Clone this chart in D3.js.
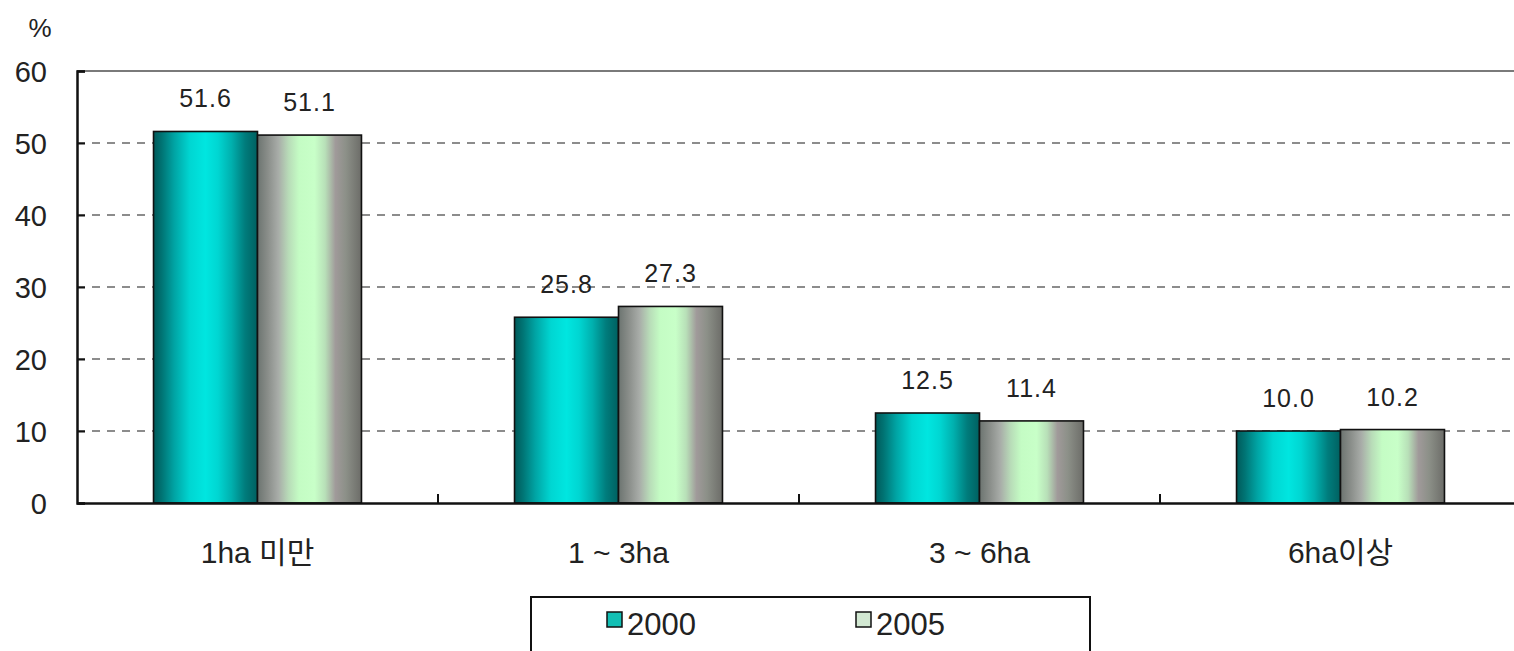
<!DOCTYPE html>
<html><head><meta charset="utf-8">
<script src="https://cdn.jsdelivr.net/npm/d3@7"></script>
<style>body{margin:0;background:#fff;}svg{display:block;}</style>
</head><body>
<svg id="c" width="1514" height="651"></svg>
<script>
const categories = ["1ha 미만", "1 ~ 3ha", "3 ~ 6ha", "6ha이상"];
const seriesNames = ["2000", "2005"];
const values2000 = [51.6, 25.8, 12.5, 10.0];
const values2005 = [51.1, 27.3, 11.4, 10.2];
const yTicks = [0, 10, 20, 30, 40, 50, 60];

(function () {
const FONT = "'Liberation Sans', Arial, 'Noto Sans CJK KR', sans-serif";
const svg = d3.select("#c");
const pLeft = 77, pRight = 1521, pTop = 71, pBottom = 503;

const x = d3.scaleBand().domain(categories).range([pLeft, pRight]).padding(0);
const xi = d3.scaleBand().domain(seriesNames).range([0, x.bandwidth()]).paddingInner(0).paddingOuter(0.736);
const y = d3.scaleLinear().domain([0, 60]).range([pBottom, pTop]);

const defs = svg.append("defs");
const g1 = defs.append("linearGradient").attr("id", "g2000");
[[0,"#005a5a"],[0.08,"#007474"],[0.2,"#00a4a4"],[0.35,"#00d6d2"],[0.5,"#00e6e0"],[0.62,"#00d6d2"],[0.75,"#00b0ae"],[0.88,"#007c7c"],[1,"#006060"]]
  .forEach(s => g1.append("stop").attr("offset", s[0]).attr("stop-color", s[1]));
const g2 = defs.append("linearGradient").attr("id", "g2005");
[[0,"#6c7470"],[0.1,"#8a8e8a"],[0.2,"#a8aca8"],[0.3,"#b8dcb8"],[0.4,"#c4fcc4"],[0.55,"#c8ffc8"],[0.65,"#b8e0b8"],[0.75,"#a09a9a"],[0.85,"#8c9088"],[1,"#6c6c68"]]
  .forEach(s => g2.append("stop").attr("offset", s[0]).attr("stop-color", s[1]));

// gridlines
svg.append("g").selectAll("line").data(yTicks.filter(t => t > 0 && t < 60)).join("line")
  .attr("x1", pLeft).attr("x2", 1514).attr("y1", d => y(d)).attr("y2", d => y(d))
  .attr("stroke", "#8c8c8c").attr("stroke-width", 2).attr("stroke-dasharray", "8,7");
// top border
svg.append("line").attr("x1", pLeft).attr("x2", 1514).attr("y1", y(60)).attr("y2", y(60))
  .attr("stroke", "#7a7a7a").attr("stroke-width", 2);

// bars
const data = [];
categories.forEach((c, i) => {
  data.push({c, s: "2000", v: values2000[i]});
  data.push({c, s: "2005", v: values2005[i]});
});
svg.append("g").selectAll("rect").data(data).join("rect")
  .attr("x", d => x(d.c) + xi(d.s)).attr("width", xi.bandwidth())
  .attr("y", d => y(d.v)).attr("height", d => y(0) - y(d.v))
  .attr("fill", d => d.s === "2000" ? "url(#g2000)" : "url(#g2005)")
  .attr("stroke", "#111").attr("stroke-width", 1.6);

// value labels
svg.append("g").selectAll("text").data(data).join("text")
  .attr("x", d => x(d.c) + xi(d.s) + xi.bandwidth() / 2)
  .attr("y", d => y(d.v) - 24)
  .attr("text-anchor", "middle").attr("font-family", FONT).attr("font-size", 25)
  .attr("letter-spacing", 1).attr("fill", "#222")
  .text(d => d.v.toFixed(1));

// y axis
const yAxis = d3.axisLeft(y).tickValues(yTicks).tickSize(-8).tickPadding(30).tickFormat(d3.format("d"));
const ya = svg.append("g").attr("transform", `translate(${pLeft},0)`).call(yAxis);
ya.select(".domain").attr("stroke", "#111").attr("stroke-width", 2.5);
ya.selectAll(".tick line").attr("stroke", "#111").attr("stroke-width", 2);
ya.selectAll(".tick text").attr("font-family", FONT).attr("font-size", 29).attr("fill", "#222").attr("x", -30).attr("dy", "0.36em");

// x axis
const xAxis = d3.axisBottom(x).tickSize(0).tickPadding(60);
const xa = svg.append("g").attr("transform", `translate(0,${pBottom})`).call(xAxis);
xa.select(".domain").attr("stroke", "#111").attr("stroke-width", 2.5);
xa.selectAll(".tick text").attr("font-family", FONT).attr("font-size", 30).attr("fill", "#222").attr("dy", "0");
// category separators
svg.append("g").selectAll("line").data(categories.slice(1)).join("line")
  .attr("x1", d => x(d)).attr("x2", d => x(d)).attr("y1", pBottom - 9).attr("y2", pBottom)
  .attr("stroke", "#111").attr("stroke-width", 2);

// % unit
svg.append("text").attr("x", 40).attr("y", 37).attr("text-anchor", "middle")
  .attr("font-family", FONT).attr("font-size", 26).attr("fill", "#222").text("%");

// legend
svg.append("rect").attr("x", 531).attr("y", 597).attr("width", 559).attr("height", 80)
  .attr("fill", "#fff").attr("stroke", "#111").attr("stroke-width", 2);
const legX = [607, 856];
const legFill = ["#12bfb4", "#d2e8d2"];
const lg = svg.append("g").selectAll("g").data(seriesNames).join("g")
  .attr("transform", (d, i) => `translate(${legX[i]},612)`);
lg.append("rect").attr("width", 15).attr("height", 15).attr("fill", (d, i) => legFill[i])
  .attr("stroke", "#111").attr("stroke-width", 1.5);
lg.append("text").attr("x", 20).attr("y", 23).attr("font-family", FONT).attr("font-size", 31)
  .attr("fill", "#222").text(d => d);
})();
</script>
</body></html>
